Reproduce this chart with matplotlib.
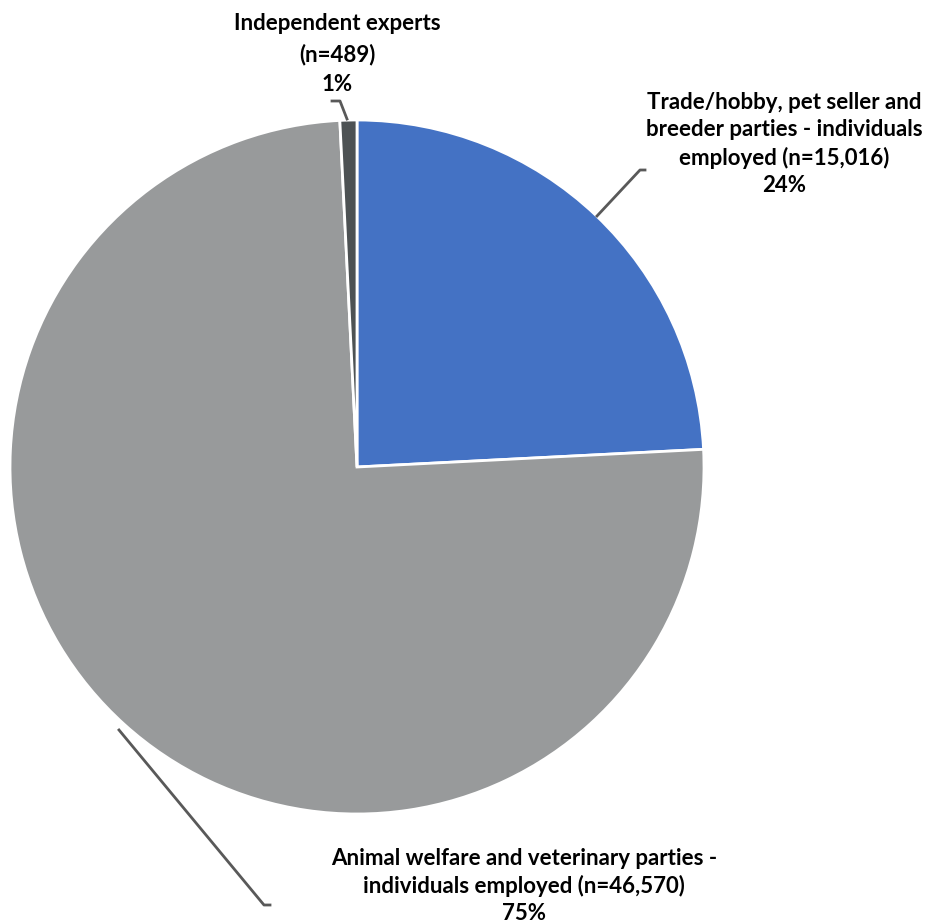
import matplotlib
matplotlib.use('Agg')
import matplotlib.pyplot as plt

labels = ['Trade/hobby, pet seller and\nbreeder parties - individuals\nemployed (n=15,016)\n24%',
          'Animal welfare and veterinary parties -\nindividuals employed (n=46,570)\n75%',
          'Independent experts\n(n=489)\n1%']
values = [15016, 46570, 489]
colors = ['#4472C4', '#989A9B', '#4D5254']

# label text centre (pixels), line spacing and leader line points (pixels)
label_pos = [(784, 144), (524, 886), (337, 54)]
label_spacing = [1.38, 1.36, 1.5]
leaders = [[(597, 216), (640, 170), (645, 170)],
           [(119, 730), (264, 905), (270, 905)],
           [(347, 119), (340, 101), (332, 101)]]

W, H = 928, 923
fig = plt.figure(figsize=(W / 100, H / 100), dpi=100)
cx, cy, r = 357, 467, 347
ax = fig.add_axes([(cx - r) / W, (H - cy - r) / H, 2 * r / W, 2 * r / H])
ax.pie(values, colors=colors, startangle=90, counterclock=False, radius=1,
       wedgeprops=dict(edgecolor='white', linewidth=2))
ax.set_xlim(-1, 1)
ax.set_ylim(-1, 1)
ax.set_aspect('auto')
ax.axis('off')

# overlay axes in pixel coordinates for labels and leader lines
ov = fig.add_axes([0, 0, 1, 1])
ov.set_xlim(0, W)
ov.set_ylim(H, 0)
ov.axis('off')
for lab, (x, y), ls, pts in zip(labels, label_pos, label_spacing, leaders):
    ov.text(x, y, lab, ha='center', va='center', fontsize=16, fontweight='bold',
            family=['Lato', 'DejaVu Sans'], color='black', linespacing=ls)
    xs = [p[0] for p in pts]
    ys = [p[1] for p in pts]
    ov.plot(xs, ys, color='#595959', lw=2)

fig.savefig('out.png', dpi=100)
